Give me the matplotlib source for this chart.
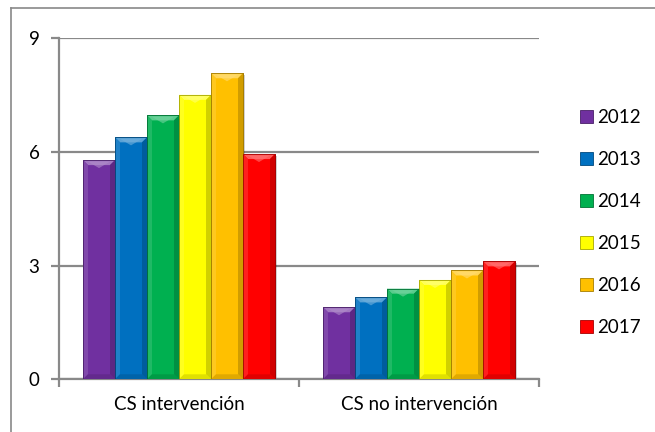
import matplotlib
matplotlib.use("Agg")
import matplotlib.pyplot as plt
import matplotlib.colors as mcolors
from matplotlib.patches import Polygon, Rectangle
import numpy as np

# data
categories = ["CS intervención", "CS no intervención"]
years = ["2012", "2013", "2014", "2015", "2016", "2017"]
values = {
    "2012": [5.78, 1.90],
    "2013": [6.38, 2.16],
    "2014": [6.96, 2.39],
    "2015": [7.50, 2.62],
    "2016": [8.07, 2.87],
    "2017": [5.94, 3.11],
}
colors = ["#7030A0", "#0070C0", "#00B050", "#FFFF00", "#FFC000", "#FF0000"]

plt.rcParams["font.family"] = ["Lato", "DejaVu Sans"]
grey = "#898989"
fs = 13.5


def shade(c, f):
    # f > 0 lightens towards white, f < 0 darkens towards black
    r = np.array(mcolors.to_rgb(c))
    if f > 0:
        return tuple(r + (1 - r) * f)
    return tuple(r * (1 + f))


W, H = 6.55, 4.32
fig = plt.figure(figsize=(W, H), dpi=100)
ax = fig.add_axes([59 / 655, (432 - 379.3) / 432, (539 - 59) / 655, (379.3 - 38) / 432])

x = np.arange(len(categories))
n = len(years)
width = 0.8 / n

bars = []
for i, yr in enumerate(years):
    pos = x - 0.4 + width * (i + 0.5)
    b = ax.bar(pos, values[yr], width, color=colors[i],
               edgecolor=shade(colors[i], -0.35), linewidth=0.6, zorder=3)
    bars.append(b)

ax.set_xlim(-0.5, 1.5)
ax.set_ylim(0, 9)

# bevel on each bar, sized in pixels
px_x = 2.0 / (480)
px_y = 9.0 / (379.3 - 38)
d = 5
for i, b in enumerate(bars):
    c = colors[i]
    for p in b.patches:
        x0, y0 = p.get_x(), p.get_y()
        w, h = p.get_width(), p.get_height()
        x1, y1 = x0 + w, y0 + h
        dx, dy = d * px_x, d * px_y
        # shadow
        ax.add_patch(Rectangle((x0 + 1.5 * px_x, y0), w, h - 1.5 * px_y,
                               facecolor="#000000", alpha=0.18, lw=0, zorder=2.5))
        facets = [
            ([(x0, y1), (x1, y1), (x1 - dx, y1 - dy), (x0 + dx, y1 - dy)], 0.35),
            ([(x0, y0), (x0, y1), (x0 + dx, y1 - dy), (x0 + dx, y0 + dy)], 0.12),
            ([(x1, y0), (x1, y1), (x1 - dx, y1 - dy), (x1 - dx, y0 + dy)], -0.18),
            ([(x0, y0), (x1, y0), (x1 - dx, y0 + dy), (x0 + dx, y0 + dy)], -0.12),
        ]
        for pts, f in facets:
            ax.add_patch(Polygon(pts, closed=True, facecolor=shade(c, f),
                                 lw=0, zorder=3.2))
        # small bright highlight in the top facet
        mx = (x0 + x1) / 2
        ax.add_patch(Polygon([(x0 + dx, y1 - 0.3 * dy), (x1 - dx, y1 - 0.3 * dy),
                              (mx, y1 - 1.6 * dy)], closed=True,
                             facecolor=shade(c, 0.45), alpha=0.6, lw=0, zorder=3.3))
        ax.add_patch(Rectangle((x0, y0), w, h, facecolor="none",
                               edgecolor=shade(c, -0.35), lw=0.6, zorder=3.4))

# axes styling
ax.set_yticks([0, 3, 6, 9])
ax.yaxis.grid(True, color=grey, linewidth=1.6, zorder=0)
ax.set_axisbelow(True)
for s in ["top", "right"]:
    ax.spines[s].set_visible(False)
for s in ["left", "bottom"]:
    ax.spines[s].set_color(grey)
    ax.spines[s].set_linewidth(1.6)
ax.tick_params(axis="y", length=6, width=1.6, color=grey, labelsize=fs, pad=8)

ax.set_xticks([-0.5, 0.5, 1.5])
ax.set_xticklabels([])
ax.tick_params(axis="x", length=6, width=1.6, color=grey)
ax.set_xticks(x, minor=True)
ax.set_xticklabels(categories, minor=True, fontsize=fs)
ax.tick_params(axis="x", which="minor", length=0, pad=12)

handles = [Rectangle((0, 0), 1, 1, facecolor=colors[i],
                     edgecolor=shade(colors[i], -0.35), lw=0.6) for i in range(n)]
ax.legend(handles, years, loc="center left", bbox_to_anchor=(1.085, 0.46),
          frameon=False, fontsize=fs, handlelength=0.7, handleheight=0.7,
          handletextpad=0.2, labelspacing=1.33, borderaxespad=0, borderpad=0)

# chart area border
fig.add_artist(plt.Line2D([11 / 655, 11 / 655], [0, 1 - 8 / 432],
                          color=grey, lw=1.2, transform=fig.transFigure))
fig.add_artist(plt.Line2D([11 / 655, 1], [1 - 8 / 432, 1 - 8 / 432],
                          color=grey, lw=1.2, transform=fig.transFigure))

fig.savefig("out.png", dpi=100)
